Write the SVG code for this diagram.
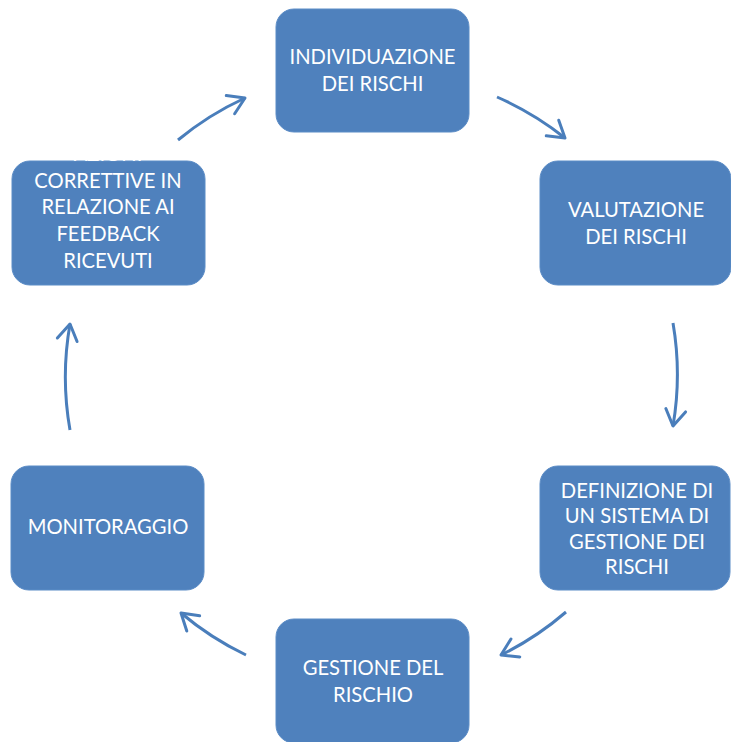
<svg xmlns="http://www.w3.org/2000/svg" width="731" height="742" viewBox="0 0 731 742">
<defs>
<style>
.box{fill:#4F81BD;stroke:#5B8CC6;stroke-width:1}
.t{font-family:Lato,"Open Sans","Liberation Sans",sans-serif;font-size:20.2px;fill:#FFFFFF;text-anchor:middle}
.arr{fill:none;stroke:#4A7EBB;stroke-width:3;marker-end:url(#ah)}
</style>
<marker id="ah" markerUnits="userSpaceOnUse" viewBox="0 0 20 24" refX="18" refY="12" markerWidth="20" markerHeight="24" orient="auto">
<path d="M2,2 L18,12 L2,22" fill="none" stroke="#4A7EBB" stroke-width="3" stroke-linecap="round" stroke-linejoin="round"/>
</marker>
<clipPath id="clipAz"><rect x="0" y="155" width="220" height="140"/></clipPath>
</defs>
<g id="connectors">
<path class="arr" d="M497,97 A305,305 0 0 1 565,138"/>
<path class="arr" d="M673,323 A305,305 0 0 1 673,426"/>
<path class="arr" d="M566,612 A305,305 0 0 1 501,655"/>
<path class="arr" d="M246,655 A305,305 0 0 1 181,613"/>
<path class="arr" d="M70,430 A305,305 0 0 1 70,324"/>
<path class="arr" d="M178,140 A305,305 0 0 1 245,98"/>
</g>
<g id="individuazione">
<rect class="box" x="276" y="9" width="193" height="123" rx="18"/>
<text class="t" x="372.5" y="64">INDIVIDUAZIONE</text>
<text class="t" x="372.5" y="91">DEI RISCHI</text>
</g>
<g id="valutazione">
<rect class="box" x="540" y="161" width="191" height="124" rx="18"/>
<text class="t" x="636" y="217">VALUTAZIONE</text>
<text class="t" x="636" y="244">DEI RISCHI</text>
</g>
<g id="definizione">
<rect class="box" x="540" y="466" width="190" height="124" rx="18"/>
<text class="t" x="637" y="498">DEFINIZIONE DI</text>
<text class="t" x="637" y="523">UN SISTEMA DI</text>
<text class="t" x="637" y="549">GESTIONE DEI</text>
<text class="t" x="637" y="574">RISCHI</text>
</g>
<g id="gestione">
<rect class="box" x="276" y="619" width="193" height="124" rx="18"/>
<text class="t" x="373" y="675">GESTIONE DEL</text>
<text class="t" x="373" y="702">RISCHIO</text>
</g>
<g id="monitoraggio">
<rect class="box" x="11" y="466" width="193" height="124" rx="18"/>
<text class="t" x="108" y="534">MONITORAGGIO</text>
</g>
<g id="azioni">
<rect class="box" x="12" y="161" width="193" height="124" rx="18"/>
<text class="t" x="108" y="161" clip-path="url(#clipAz)">AZIONI</text>
<text class="t" x="108" y="188">CORRETTIVE IN</text>
<text class="t" x="108" y="214">RELAZIONE AI</text>
<text class="t" x="108" y="241">FEEDBACK</text>
<text class="t" x="108" y="268">RICEVUTI</text>
</g>
</svg>
